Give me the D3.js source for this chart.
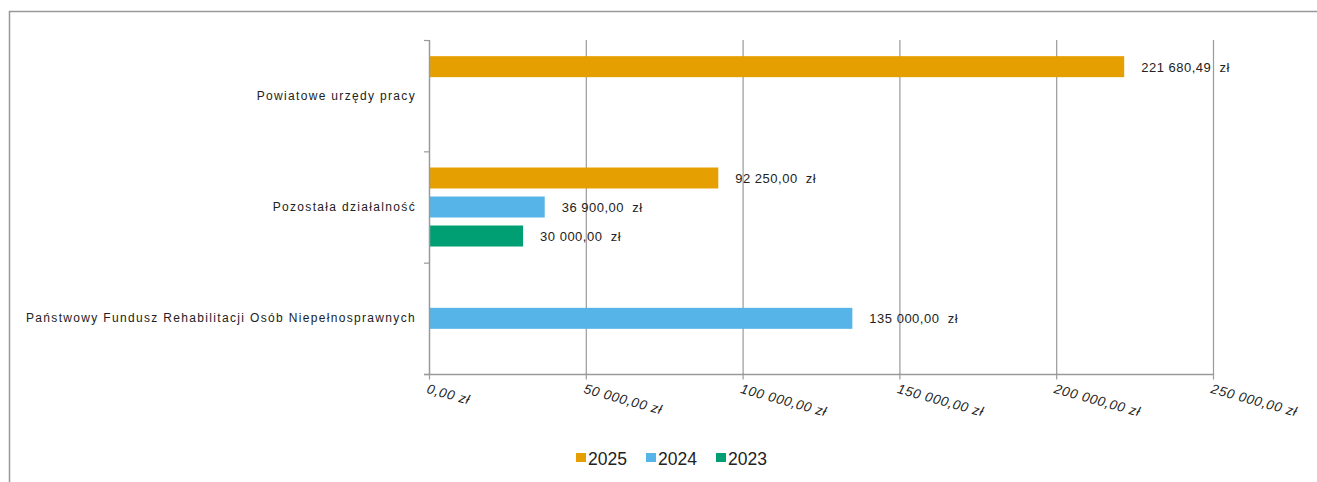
<!DOCTYPE html>
<html>
<head>
<meta charset="utf-8">
<script src="https://cdn.jsdelivr.net/npm/d3@7"></script>
<style>
  body { margin: 0; background: #fff; }
  text { font-family: "Liberation Sans", Arial, sans-serif; fill: #222; }
</style>
</head>
<body>
<div id="chart"></div>
<script>
const categories = ["Powiatowe urzędy pracy", "Pozostała działalność", "Państwowy Fundusz Rehabilitacji Osób Niepełnosprawnych"]
const years = ["2025", "2024", "2023"]
const colors = ["#E69F00", "#56B4E9", "#009E73"]
// values per category, per year (null = no bar)
const values2025 = [221680.49, 92250.00, null]
const values2024 = [null, 36900.00, 135000.00]
const values2023 = [null, 30000.00, null]
const xTicks = [0, 50000, 100000, 150000, 200000, 250000]

const W = 1317, H = 482
const svg = d3.select("#chart").append("svg")
    .attr("width", W)
    .attr("height", H)

// frame
svg.append("path")
    .attr("d", "M9.5," + H + "V11.5H" + W)
    .attr("fill", "none")
    .attr("stroke", "#999")
    .attr("stroke-width", 1.5)

const pLeft = 429, pRight = 1213, pTop = 40, pBottom = 374

const x = d3.scaleLinear().domain([0, 250000]).range([pLeft, pRight])
const y = d3.scaleBand().domain(categories).range([pTop, pBottom])
const inner = d3.scaleBand().domain(years).range([-39.5, 39.5]).paddingInner(0.276)

const fmt = v => {
    let s = d3.format(",.2f")(v)
    return s.replace(/,/g, " ").replace(".", ",")
}

// grid lines
svg.append("g").selectAll("line")
    .data(xTicks.slice(1))
    .enter()
    .append("line")
    .attr("x1", d => x(d) + 0.5)
    .attr("x2", d => x(d) + 0.5)
    .attr("y1", pTop)
    .attr("y2", pBottom)
    .attr("stroke", "#9a9a9a")
    .attr("stroke-width", 1.2)

// bars
const series = [values2025, values2024, values2023]
const rows = []
series.forEach((vals, si) => {
    vals.forEach((v, ci) => {
        if (v != null) rows.push({cat: categories[ci], year: years[si], value: v, color: colors[si]})
    })
})

svg.append("g").selectAll("rect")
    .data(rows)
    .enter()
    .append("rect")
    .attr("x", x(0) + 1)
    .attr("y", d => y(d.cat) + y.bandwidth() / 2 + inner(d.year))
    .attr("width", d => x(d.value) - x(0) - 1)
    .attr("height", inner.bandwidth())
    .attr("fill", d => d.color)

svg.append("g").selectAll("text")
    .data(rows)
    .enter()
    .append("text")
    .attr("x", d => x(d.value) + 17)
    .attr("y", d => y(d.cat) + y.bandwidth() / 2 + inner(d.year) + inner.bandwidth() / 2 + 5)
    .attr("font-size", 13)
    .attr("letter-spacing", 0.5)
    .attr("xml:space", "preserve")
    .text(d => fmt(d.value) + "  zł")

// x axis
const xAxis = svg.append("g")
    .attr("transform", "translate(0," + (pBottom + 0.5) + ")")
    .call(d3.axisBottom(x).tickValues(xTicks).tickSize(5).tickSizeOuter(0).tickFormat(d => fmt(d) + " zł"))
xAxis.select(".domain").attr("stroke", "#9a9a9a").attr("stroke-width", 1.5)
    .attr("d", "M" + (pLeft - 5) + ",0H" + pRight)
xAxis.selectAll(".tick line").attr("stroke", "#9a9a9a").attr("stroke-width", 1.2)
    .attr("y1", -1).attr("y2", 5)
xAxis.selectAll(".tick text")
    .attr("font-size", 13.5)
    .attr("font-style", "italic")
    .attr("letter-spacing", 0.6)
    .attr("text-anchor", "start")
    .attr("fill", "#222")
    .attr("transform", "translate(0,6) rotate(15.5)")
    .attr("dy", "0.8em")
    .attr("x", 0)
    .attr("y", 2)

// y axis
svg.append("line")
    .attr("x1", pLeft + 0.5).attr("x2", pLeft + 0.5)
    .attr("y1", pTop).attr("y2", pBottom)
    .attr("stroke", "#9a9a9a").attr("stroke-width", 1.5)
svg.append("g").selectAll("line")
    .data(categories.concat(["end"]))
    .enter()
    .append("line")
    .attr("x1", pLeft - 5).attr("x2", pLeft)
    .attr("y1", (d, i) => pTop + i * y.step() + 0.5)
    .attr("y2", (d, i) => pTop + i * y.step() + 0.5)
    .attr("stroke", "#9a9a9a").attr("stroke-width", 1.2)

svg.append("g").selectAll("text")
    .data(categories)
    .enter()
    .append("text")
    .attr("x", pLeft - 13)
    .attr("y", d => y(d) + y.bandwidth() / 2 + 4)
    .attr("text-anchor", "end")
    .attr("font-size", 12)
    .attr("letter-spacing", 1.33)
    .text(d => d)

// legend
const lx = [576, 646, 716]
const legend = svg.append("g").selectAll("g")
    .data(years)
    .enter()
    .append("g")
    .attr("transform", (d, i) => "translate(" + lx[i] + ",453)")
legend.append("rect")
    .attr("width", 10).attr("height", 9)
    .attr("fill", (d, i) => colors[i])
legend.append("text")
    .attr("x", 12).attr("y", 11.5)
    .attr("font-size", 17.5)
    .text(d => d)
</script>
</body>
</html>
